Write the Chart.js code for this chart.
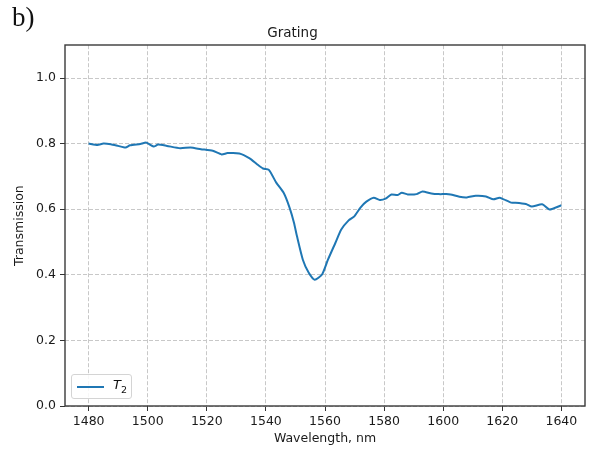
<!DOCTYPE html>
<html>
<head>
<meta charset="utf-8">
<script src="https://cdn.jsdelivr.net/npm/chart.js@4"></script>
<style>
  html, body { margin: 0; padding: 0; background: #fff; }
  #wrap { position: relative; width: 591px; height: 453px; }
  #panel { position: absolute; left: 12px; top: 2px; font-family: "Liberation Serif", serif; font-size: 27px; color: #111; }
  #legend {
    position: absolute; left: 71px; top: 374px; width: 59px; height: 23px;
    border: 1px solid #d4d4d4; border-radius: 3px; background: rgba(255,255,255,0.85);
    font-family: "DejaVu Sans", sans-serif; font-size: 13px; color: #111;
  }
  #legend .swatch { position: absolute; left: 5px; top: 11px; width: 27px; height: 2px; background: #1f77b4; }
  #legend .label { position: absolute; left: 41px; top: 2px; }
  #legend sub { font-size: 9.5px; font-style: normal; }
</style>
</head>
<body>
<div id="wrap">
  <canvas id="chart" width="591" height="453"></canvas>
  <div id="panel">b)</div>
  <div id="legend"><span class="swatch"></span><span class="label"><i>T</i><sub>2</sub></span></div>
</div>
<script>
const wavelengths = [
  1480, 1483, 1485, 1487.5, 1490, 1492.5, 1494, 1497.5, 1499.5, 1502,
  1503.5, 1506.5, 1511, 1514.5, 1518, 1522, 1525, 1527, 1531, 1534.5,
  1537, 1539, 1541, 1543.5, 1546, 1548, 1549.5, 1550.5, 1552.5, 1554.5,
  1556.5, 1559, 1561, 1563.5, 1565.5, 1568, 1570, 1572, 1574, 1576.5,
  1578.5, 1580.5, 1582.5, 1584.5, 1586, 1588, 1591, 1593, 1596, 1598.5,
  1601, 1602.5, 1605.5, 1608, 1611, 1614.5, 1617, 1619, 1620.5, 1623,
  1624.5, 1628, 1630, 1633.5, 1636, 1640
];
const transmissionT2 = [
  0.800, 0.796, 0.800, 0.798, 0.793, 0.788, 0.795, 0.799, 0.803, 0.791,
  0.797, 0.793, 0.786, 0.788, 0.783, 0.778, 0.767, 0.771, 0.770, 0.755,
  0.737, 0.724, 0.720, 0.681, 0.650, 0.605, 0.559, 0.518, 0.446, 0.406,
  0.385, 0.401, 0.446, 0.497, 0.538, 0.566, 0.579, 0.605, 0.623, 0.635,
  0.628, 0.632, 0.645, 0.643, 0.650, 0.645, 0.646, 0.654, 0.648, 0.646,
  0.646, 0.645, 0.638, 0.636, 0.641, 0.639, 0.630, 0.635, 0.630, 0.620,
  0.620, 0.616, 0.608, 0.615, 0.599, 0.612
];
const xTicks = [1480, 1500, 1520, 1540, 1560, 1580, 1600, 1620, 1640];
const yTicks = [0, 0.2, 0.4, 0.6, 0.8, 1.0];

const textColor = "#1a1a1a";
const gridColor = "#c8c8c8";

// draws all four spines as one box
const frame = {
  id: "frame",
  afterDraw(chart) {
    const {ctx, chartArea: a} = chart;
    ctx.save();
    ctx.strokeStyle = "#3a3a3a";
    ctx.lineWidth = 1.4;
    ctx.strokeRect(Math.round(a.left), Math.round(a.top),
                   Math.round(a.right - a.left), Math.round(a.bottom - a.top));
    ctx.restore();
  }
};

new Chart(document.getElementById("chart"), {
  type: "line",
  data: {
    datasets: [{
      label: "T2",
      data: wavelengths.map((w, i) => ({x: w, y: transmissionT2[i]})),
      borderColor: "#1f77b4",
      borderWidth: 2,
      pointRadius: 0,
      tension: 0.2,
      fill: false
    }]
  },
  options: {
    responsive: false,
    animation: false,
    layout: { padding: { left: 0, top: 0, right: 6, bottom: 0 } },
    plugins: {
      legend: { display: false },
      tooltip: { enabled: false },
      title: {
        display: true, text: "Grating", color: textColor,
        font: { family: "DejaVu Sans", size: 13.5, weight: "normal" },
        padding: { top: 25, bottom: 4 }
      }
    },
    scales: {
      x: {
        type: "linear", min: 1472, max: 1648,
        afterBuildTicks: s => { s.ticks = xTicks.map(v => ({value: v})); },
        afterFit: s => { s.height = 47; },
        ticks: { color: textColor, font: { family: "DejaVu Sans", size: 12.5 }, padding: 3, maxRotation: 0,
                 callback: v => String(v) },
        grid: { color: gridColor, tickColor: "#333", tickLength: 5, lineWidth: 1 },
        border: { display: false, dash: [4, 2] },
        title: { display: true, text: "Wavelength, nm", color: textColor,
                 font: { family: "DejaVu Sans", size: 12.5 }, padding: 6.5 }
      },
      y: {
        type: "linear", min: 0, max: 1.1,
        afterBuildTicks: s => { s.ticks = yTicks.map(v => ({value: v})); },
        afterFit: s => { s.width = 65; },
        ticks: { color: textColor, font: { family: "DejaVu Sans", size: 12.5 }, padding: 4,
                 callback: v => v.toFixed(1) },
        grid: { color: gridColor, tickColor: "#333", tickLength: 5, lineWidth: 1 },
        border: { display: false, dash: [4, 2] },
        title: { display: true, text: "Transmission", color: textColor,
                 font: { family: "DejaVu Sans", size: 12.5 }, padding: 12 }
      }
    }
  },
  plugins: [frame]
});
</script>
</body>
</html>
